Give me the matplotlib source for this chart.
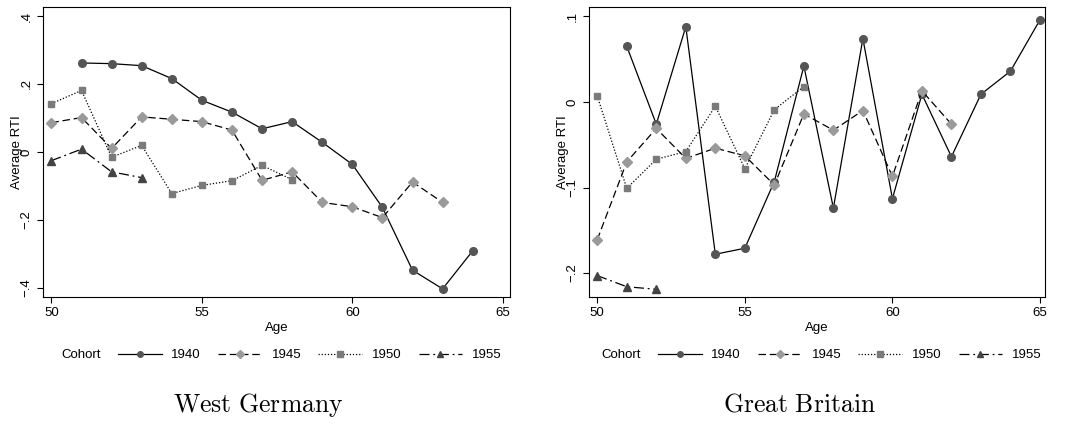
import numpy as np
import matplotlib.pyplot as plt
from matplotlib.lines import Line2D

plt.rcParams['font.family'] = ['Liberation Sans', 'DejaVu Sans']
plt.rcParams['mathtext.fontset'] = 'cm'

# West Germany
de_age_1940 = [51, 52, 53, 54, 55, 56, 57, 58, 59, 60, 61, 62, 63, 64]
de_rti_1940 = [0.262, 0.260, 0.254, 0.216, 0.152, 0.117, 0.068, 0.089, 0.028, -0.037, -0.164, -0.349, -0.404, -0.292]
de_age_1945 = [50, 51, 52, 53, 54, 55, 56, 57, 58, 59, 60, 61, 62, 63]
de_rti_1945 = [0.086, 0.101, 0.010, 0.103, 0.096, 0.089, 0.064, -0.084, -0.059, -0.149, -0.162, -0.194, -0.089, -0.149]
de_age_1950 = [50, 51, 52, 53, 54, 55, 56, 57, 58]
de_rti_1950 = [0.142, 0.181, -0.016, 0.019, -0.123, -0.099, -0.085, -0.040, -0.082]
de_age_1955 = [50, 51, 52, 53]
de_rti_1955 = [-0.026, 0.008, -0.059, -0.076]

# Great Britain
gb_age_1940 = [51, 52, 53, 54, 55, 56, 57, 58, 59, 60, 61, 62, 63, 64, 65]
gb_rti_1940 = [0.065, -0.026, 0.088, -0.178, -0.171, -0.093, 0.042, -0.124, 0.074, -0.113, 0.009, -0.064, 0.009, 0.036, 0.096]
gb_age_1945 = [50, 51, 52, 53, 54, 55, 56, 57, 58, 59, 60, 61, 62]
gb_rti_1945 = [-0.161, -0.070, -0.031, -0.066, -0.054, -0.063, -0.097, -0.014, -0.033, -0.010, -0.087, 0.013, -0.026]
gb_age_1950 = [50, 51, 52, 53, 54, 55, 56, 57]
gb_rti_1950 = [0.007, -0.101, -0.067, -0.058, -0.005, -0.078, -0.009, 0.018]
gb_age_1955 = [50, 51, 52]
gb_rti_1955 = [-0.203, -0.216, -0.219]

cohorts = ['1940', '1945', '1950', '1955']
estilos = [
    dict(color='black', linestyle='-', marker='o', mfc='#555555', mec='#555555'),
    dict(color='black', linestyle=(0, (6, 3)), marker='D', mfc='#9a9a9a', mec='#9a9a9a'),
    dict(color='black', linestyle=(0, (1, 1.5)), marker='s', mfc='#7a7a7a', mec='#7a7a7a'),
    dict(color='black', linestyle=(0, (8, 3, 1.5, 3)), marker='^', mfc='#444444', mec='#444444'),
]
tamanos = [5.5, 5, 5, 6]

fig = plt.figure(figsize=(10.69, 4.30), dpi=100)
ax1 = fig.add_axes([43 / 1069, 1 - 297 / 430, 467 / 1069, 290 / 430])
ax2 = fig.add_axes([589 / 1069, 1 - 297 / 430, 456 / 1069, 290 / 430])

datos_de = [(de_age_1940, de_rti_1940), (de_age_1945, de_rti_1945),
            (de_age_1950, de_rti_1950), (de_age_1955, de_rti_1955)]
datos_gb = [(gb_age_1940, gb_rti_1940), (gb_age_1945, gb_rti_1945),
            (gb_age_1950, gb_rti_1950), (gb_age_1955, gb_rti_1955)]

for ax, datos in [(ax1, datos_de), (ax2, datos_gb)]:
    for (edad, rti), est, ms in zip(datos, estilos, tamanos):
        ax.plot(edad, rti, lw=0.9, ms=ms, **est)
    ax.set_xticks([50, 55, 60, 65])
    ax.set_xlabel('Age', fontsize=9.5, labelpad=2)
    ax.set_ylabel('Average RTI', fontsize=9.5, labelpad=-2)
    ax.tick_params(labelsize=9.5, length=4, width=0.8)
    for s in ax.spines.values():
        s.set_linewidth(0.8)

ax1.set_xlim(49.72, 65.24)
ax1.set_ylim(-0.428, 0.427)
ax1.set_yticks([-0.4, -0.2, 0, 0.2, 0.4])
ax1.set_yticklabels(['\u2212.4', '\u2212.2', '0', '.2', '.4'], rotation=90, va='center')

ax2.set_xlim(49.72, 65.17)
ax2.set_ylim(-0.228, 0.111)
ax2.set_yticks([-0.2, -0.1, 0, 0.1])
ax2.set_yticklabels(['\u2212.2', '\u2212.1', '0', '.1'], rotation=90, va='center')

# Leyendas
handles = [Line2D([], [], lw=0.9, ms=4, **est) for est in estilos]
for xc in [61, 601]:
    fig.text(xc / 1069, 1 - 355 / 430, 'Cohort', fontsize=9.5, va='center')
    fig.legend(handles, cohorts, loc='center left', ncol=4, frameon=False,
               bbox_to_anchor=((xc + 57) / 1069, 1 - 355 / 430), fontsize=9.5,
               handlelength=3.3, handletextpad=0.75, columnspacing=1.3,
               borderpad=0, borderaxespad=0)

fig.text(258 / 1069, 1 - 405 / 430, r'$\mathrm{West\ Germany}$', fontsize=18.5, ha='center', va='center')
fig.text(800 / 1069, 1 - 405 / 430, r'$\mathrm{Great\ Britain}$', fontsize=18.5, ha='center', va='center')

plt.savefig('out.png', dpi=100)
